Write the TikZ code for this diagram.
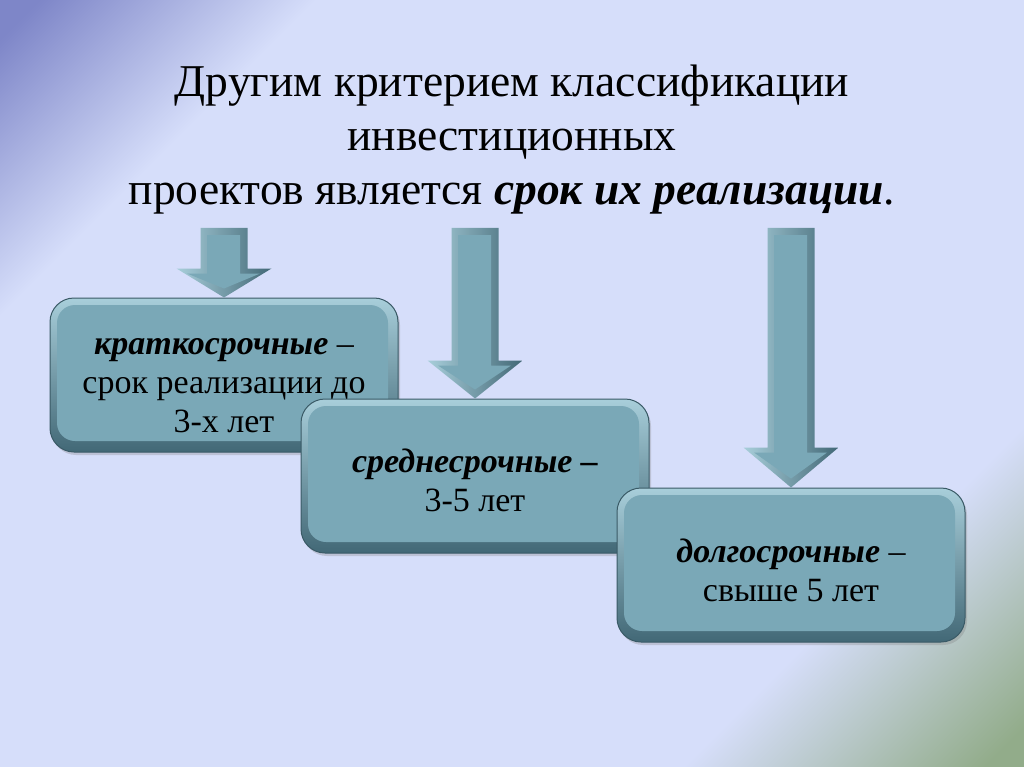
\documentclass[tikz,border=0pt]{standalone}
\usepackage{fontspec}
\setmainfont{Liberation Serif}
\usetikzlibrary{calc,shadows}

\definecolor{slidebg}{RGB}{214,222,250}
\definecolor{cornerviolet}{RGB}{126,134,200}
\definecolor{cornergreen}{RGB}{146,172,138}
\definecolor{boxfill}{RGB}{122,168,183}
\definecolor{bevellight}{RGB}{168,206,218}
\definecolor{beveldark}{RGB}{66,104,118}
\definecolor{boxedge}{RGB}{58,90,102}

\pgfdeclareverticalshading{slideshade}{100bp}{color(0bp)=(cornergreen); color(16bp)=(cornergreen);
  color(28bp)=(slidebg); color(73bp)=(slidebg); color(84bp)=(cornerviolet); color(100bp)=(cornerviolet)}

\newcommand{\boxstrut}[1]{\rule{0pt}{#1pt}}

\tikzset{
  termbox/.style={rounded corners=24pt, minimum width=348pt, minimum height=154pt,
    align=center, font=\fontsize{34}{39}\selectfont,
    draw=boxedge, line width=1pt,
    top color=bevellight, bottom color=beveldark,
    drop shadow={shadow xshift=2pt, shadow yshift=-3pt, opacity=0.3},
    path picture={\fill[boxfill, rounded corners=18pt]
      ([shift={(7pt,11pt)}]path picture bounding box.south west) rectangle
      ([shift={(-10pt,-7pt)}]path picture bounding box.north east);}},
  titletext/.style={align=center, font=\fontsize{45.5}{54}\selectfont},
  arrowbevel/.style={left color=bevellight, right color=beveldark},
  arrowface/.style={fill=boxfill}
}

% block arrow from the row under the title down to a box
\newcommand{\termarrow}[2]{%
  \shade[arrowbevel] (#1.north) -- ($(#1.north)+(-47.5,-#2)$) -- ($(#1.north)+(-23.5,-#2)$)
    -- ([xshift=-23.5pt]arrowtop -| #1.north) -- ([xshift=23.5pt]arrowtop -| #1.north)
    -- ($(#1.north)+(23.5,-#2)$) -- ($(#1.north)+(47.5,-#2)$) -- cycle;
  \fill[arrowface] ($(#1.north)+(0,-9)$) -- ($(#1.north)+(-37,-#2+5)$) -- ($(#1.north)+(-17,-#2+5)$)
    -- ([xshift=-17pt,yshift=-7pt]arrowtop -| #1.north) -- ([xshift=16pt,yshift=-7pt]arrowtop -| #1.north)
    -- ($(#1.north)+(16,-#2+5)$) -- ($(#1.north)+(36,-#2+5)$) -- cycle;
}

\begin{document}
\begin{tikzpicture}[x=1pt, y=-1pt]
  \useasboundingbox (0,0) rectangle (1024,767);
  % background
  \shade[shading=slideshade, shading angle=45] (0,0) rectangle (1024,767);

  \node[titletext] (title) at (512,140) {Другим критерием классификации\\
    инвестиционных\\
    проектов является \textbf{\textit{срок их реализации}}.};
  \coordinate (arrowtop) at (0,228);

  \node[termbox] (short) at (224,375) {\boxstrut{38}\textbf{\textit{краткосрочные}} –\\
    срок реализации до\\ 3-х лет};
  \node[termbox] (medium) at (475,476) {\boxstrut{33}\textbf{\textit{среднесрочные –}}\\ 3-5 лет};
  \node[termbox] (long) at (791,565) {\boxstrut{34}\textbf{\textit{долгосрочные}} –\\ свыше 5 лет};

  \termarrow{short}{29}
  \termarrow{medium}{38}
  \termarrow{long}{40}
\end{tikzpicture}
\end{document}
